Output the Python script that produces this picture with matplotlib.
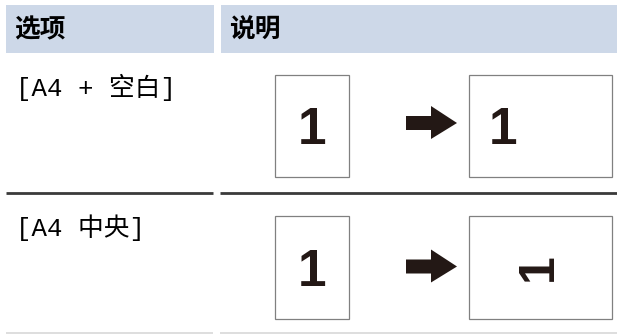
import matplotlib
matplotlib.use("Agg")
import matplotlib.pyplot as plt
from matplotlib.patches import Rectangle, Polygon
from matplotlib.font_manager import FontProperties

# ---- data ----
headers = ["选项", "说明"]
options = ["[A4 + 空白]", "[A4 中央]"]
page_digit = "1"
result_rotation = [0, 90]          # orientation of the digit on the result page

W, H = 617, 334
fig = plt.figure(figsize=(W / 100, H / 100), dpi=100)
ax = fig.add_axes([0, 0, 1, 1])
ax.set_xlim(0, W)
ax.set_ylim(H, 0)
ax.axis("off")

ink = "#231815"
hdr_bg = "#cdd8e8"
cjk_bold = ["Noto Sans CJK SC", "DejaVu Sans"]
mixed = ["Liberation Mono", "Noto Sans CJK SC", "DejaVu Sans"]

# header
col_x = [(6, 214), (221, 617)]
for (x0, x1), h in zip(col_x, headers):
    ax.add_patch(Rectangle((x0, 5), x1 - x0, 48, facecolor=hdr_bg, edgecolor="none"))
    ax.text(x0 + 8, 30, h, fontsize=18.5, fontweight="bold", family=cjk_bold,
            ha="left", va="center", color="black")

digit_fs = 37.0
em_px = digit_fs * 100 / 72.0
cap = 0.716 * em_px


def draw_digit(ch, cx, cy, rot, fs=digit_fs):
    fp = FontProperties(family="Liberation Sans", weight="bold", size=fs)
    e = fs * 100 / 72.0
    c = 0.716 * e
    if rot == 0:
        ax.text(cx + 2, cy + c / 2, ch, fontproperties=fp, color=ink,
                ha="center", va="baseline")
    else:
        ax.text(cx + c / 2, cy + 2, ch, fontproperties=fp, color=ink,
                ha="center", va="baseline", rotation=rot, rotation_mode="anchor")


row_tops = [60, 193]
line_styles = [("#3a3a3a", 2.0), ("#d8d8d8", 1.2)]
row_lines_y = [193, 333]
for i, opt in enumerate(options):
    top = row_tops[i]
    ty = top + 27 if i == 0 else top + 35
    ax.text(16, ty, opt, fontsize=18.5, family=mixed, ha="left", va="center", color="black")

    by0 = 75 if i == 0 else 216
    bh = 102 if i == 0 else 103
    cy = by0 + bh / 2
    # source page (portrait)
    ax.add_patch(Rectangle((275, by0), 74, bh, facecolor="white", edgecolor="#808080", lw=0.9))
    draw_digit(page_digit, 310, cy, 0)
    # arrow
    ay = cy - 3 if i == 0 else cy - 1
    arrow = [(406, ay - 7), (431, ay - 7), (431, ay - 17), (457, ay), (431, ay + 16),
             (431, ay + 7), (406, ay + 7)]
    ax.add_patch(Polygon(arrow, closed=True, facecolor=ink, edgecolor="none"))
    # result page (landscape)
    ax.add_patch(Rectangle((469, by0), 143, bh, facecolor="white", edgecolor="#808080", lw=0.9))
    if result_rotation[i] == 0:
        draw_digit(page_digit, 501, cy, 0)
    else:
        draw_digit(page_digit, 534, cy - 2, result_rotation[i], fs=36)

    c, lw = line_styles[i]
    y = row_lines_y[i]
    ax.plot([6, 213], [y, y], color=c, lw=lw, solid_capstyle="butt")
    ax.plot([220, 617], [y, y], color=c, lw=lw, solid_capstyle="butt")

fig.savefig("out.png", dpi=100)
